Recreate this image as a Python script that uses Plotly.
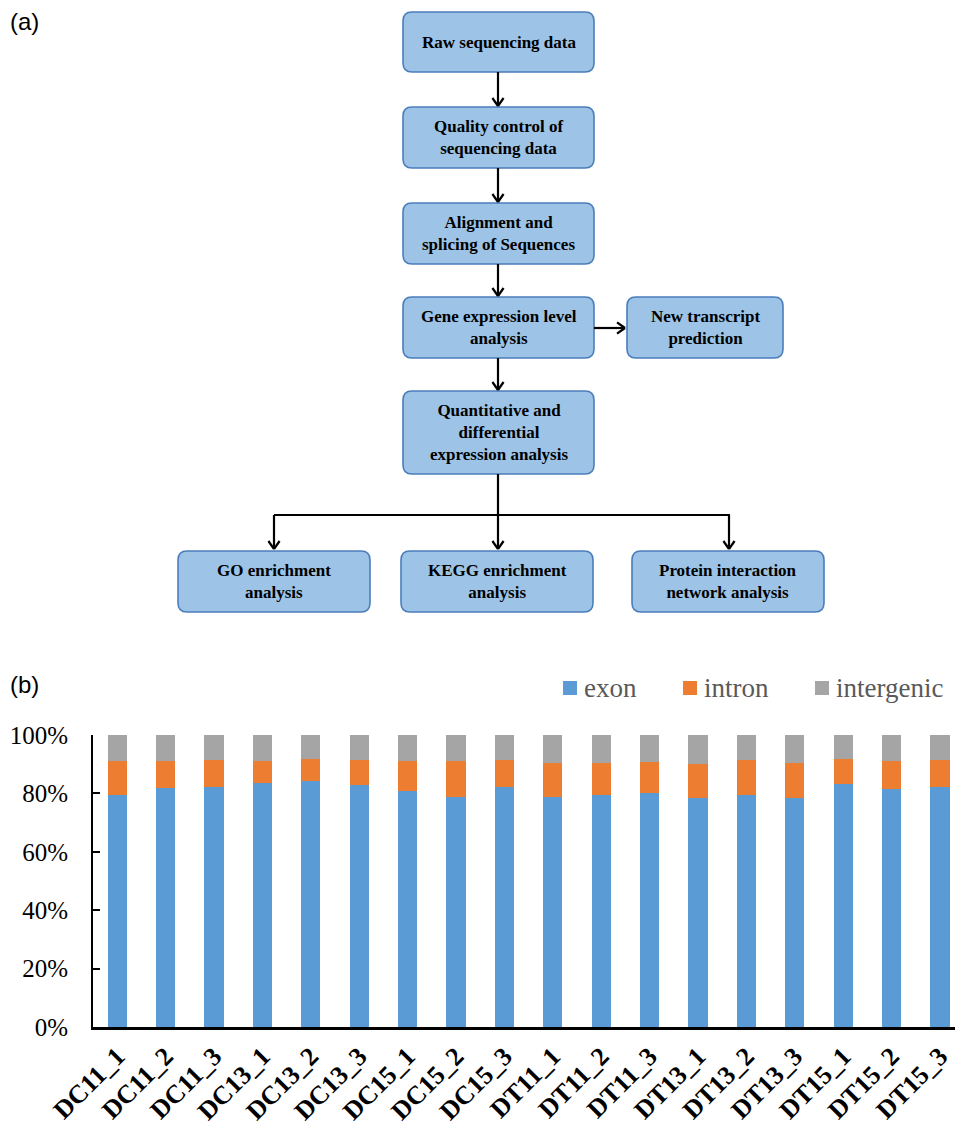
import plotly.graph_objects as go

# ---- data: share of reads mapped to each genomic region (%) ----
samples = ["DC11_1", "DC11_2", "DC11_3", "DC13_1", "DC13_2", "DC13_3",
           "DC15_1", "DC15_2", "DC15_3", "DT11_1", "DT11_2", "DT11_3",
           "DT13_1", "DT13_2", "DT13_3", "DT15_1", "DT15_2", "DT15_3"]
exon = [79.3, 81.7, 82.3, 83.7, 84.2, 83.0, 80.8, 78.9, 82.1,
        78.7, 79.5, 80.0, 78.5, 79.4, 78.3, 83.2, 81.6, 82.1]
intron = [11.8, 9.4, 9.1, 7.5, 7.5, 8.4, 10.4, 12.1, 9.3,
          11.6, 11.0, 10.9, 11.4, 12.0, 12.0, 8.5, 9.5, 9.4]
intergenic = [8.9, 8.9, 8.6, 8.8, 8.3, 8.6, 8.8, 9.0, 8.6,
              9.7, 9.5, 9.1, 10.1, 8.6, 9.7, 8.3, 8.9, 8.5]
y_ticks = [0, 20, 40, 60, 80, 100]
y_labels = ["0%", "20%", "40%", "60%", "80%", "100%"]

# ---- flowchart content ----
steps = {
    "raw": "Raw sequencing data",
    "qc": "Quality control of<br>sequencing data",
    "align": "Alignment and<br>splicing of Sequences",
    "expr": "Gene expression level<br>analysis",
    "novel": "New transcript<br>prediction",
    "diff": "Quantitative and<br>differential<br>expression analysis",
    "go": "GO enrichment<br>analysis",
    "kegg": "KEGG enrichment<br>analysis",
    "ppi": "Protein interaction<br>network analysis",
}

W, H = 955, 1133


def fx(px):
    return px / W


def fy(py):
    return 1 - py / H


# box extents in page pixels: x0, y0, x1, y1
boxes = {
    "raw": (403, 12, 594, 72),
    "qc": (403, 107, 594, 168),
    "align": (403, 203, 594, 264),
    "expr": (403, 297, 594, 358),
    "novel": (627, 297, 783, 358),
    "diff": (403, 391, 594, 474),
    "go": (178, 551, 370, 612),
    "kegg": (401, 551, 593, 612),
    "ppi": (632, 551, 824, 612),
}

colors = {"exon": "#5B9BD5", "intron": "#ED7D31", "intergenic": "#A5A5A5"}
serif = "Liberation Serif"

fig = go.Figure()
for name, vals in (("exon", exon), ("intron", intron), ("intergenic", intergenic)):
    fig.add_trace(go.Bar(
        x=samples, y=vals, name=name, width=0.4,
        marker=dict(color=colors[name], line=dict(width=0)),
    ))

shapes = []
annotations = []


def rounded_box(x0, y0, x1, y1, r=9):
    rx, ry = r / W, r / H
    X0, X1, Y0, Y1 = fx(x0), fx(x1), fy(y0), fy(y1)
    path = (f"M{X0 + rx},{Y0} L{X1 - rx},{Y0} Q{X1},{Y0} {X1},{Y0 - ry} "
            f"L{X1},{Y1 + ry} Q{X1},{Y1} {X1 - rx},{Y1} "
            f"L{X0 + rx},{Y1} Q{X0},{Y1} {X0},{Y1 + ry} "
            f"L{X0},{Y0 - ry} Q{X0},{Y0} {X0 + rx},{Y0} Z")
    return dict(type="path", xref="paper", yref="paper", path=path,
                fillcolor="#9DC3E6", line=dict(color="#4A7EBB", width=1.6),
                layer="above")


def seg(x0, y0, x1, y1, w=2.2):
    return dict(type="line", xref="paper", yref="paper",
                x0=fx(x0), y0=fy(y0), x1=fx(x1), y1=fy(y1),
                line=dict(color="black", width=w))


def arrow(x0, y0, x1, y1, head=8):
    out = [seg(x0, y0, x1, y1)]
    if x0 == x1:  # vertical, pointing down
        out.append(seg(x1 - head * 0.7, y1 - head, x1, y1))
        out.append(seg(x1 + head * 0.7, y1 - head, x1, y1))
    else:  # horizontal, pointing right
        out.append(seg(x1 - head, y1 - head * 0.7, x1, y1))
        out.append(seg(x1 - head, y1 + head * 0.7, x1, y1))
    return out


for key, (x0, y0, x1, y1) in boxes.items():
    shapes.append(rounded_box(x0, y0, x1, y1))
    annotations.append(dict(
        x=fx((x0 + x1) / 2), y=fy((y0 + y1) / 2), xref="paper", yref="paper",
        text=f"<b>{steps[key]}</b>", showarrow=False,
        font=dict(family=serif, size=17, color="black"),
        xanchor="center", yanchor="middle", align="center",
    ))

# connectors
shapes += arrow(498, 72, 498, 106)
shapes += arrow(498, 168, 498, 202)
shapes += arrow(498, 264, 498, 296)
shapes += arrow(594, 328, 625, 328)
shapes += arrow(498, 358, 498, 390)
shapes.append(seg(498, 474, 498, 515))
shapes.append(seg(274, 515, 730, 515))
shapes += arrow(274, 515, 274, 549)
shapes += arrow(498, 515, 498, 549)
shapes += arrow(729, 515, 729, 549)

# panel labels
for lab, py in (("(a)", 21), ("(b)", 684)):
    annotations.append(dict(
        x=fx(8), y=fy(py), xref="paper", yref="paper", text=lab,
        showarrow=False, xanchor="left", yanchor="middle",
        font=dict(family="Liberation Sans", size=24, color="black"),
    ))

# legend row for panel (b): colour key squares with series names
legend_pos = {"exon": 563, "intron": 683, "intergenic": 815}
for name, sx in legend_pos.items():
    shapes.append(dict(type="rect", xref="paper", yref="paper",
                       x0=fx(sx), x1=fx(sx + 14), y0=fy(695), y1=fy(681),
                       fillcolor=colors[name], line=dict(width=0)))
    annotations.append(dict(
        x=fx(sx + 19), y=fy(688), xref="paper", yref="paper", text=name,
        showarrow=False, xanchor="left", yanchor="middle",
        font=dict(family=serif, size=27, color="#595959"),
    ))

fig.update_layout(
    width=W, height=H,
    margin=dict(l=0, r=0, t=0, b=0),
    paper_bgcolor="white", plot_bgcolor="white",
    barmode="stack", bargap=0.6,
    shapes=shapes, annotations=annotations,
    showlegend=False,
    xaxis=dict(
        domain=[fx(93), 1], range=[-0.5, 17.31],
        showline=True, linecolor="black", linewidth=2.5,
        ticks="", tickangle=-45, automargin=False,
        ticklabelstandoff=1,
        tickfont=dict(family=serif, size=26, color="black", weight="bold"),
        showgrid=False, zeroline=False, fixedrange=True,
    ),
    yaxis=dict(
        domain=[fy(1027), fy(735)], range=[0, 100],
        tickmode="array", tickvals=y_ticks, ticktext=y_labels,
        showline=True, linecolor="black", linewidth=2,
        ticks="inside", ticklen=7, tickwidth=2, tickcolor="black",
        ticklabelstandoff=18, automargin=False,
        tickfont=dict(family=serif, size=25, color="black"),
        showgrid=False, zeroline=False, fixedrange=True,
    ),
)

fig.write_html("out.html")
